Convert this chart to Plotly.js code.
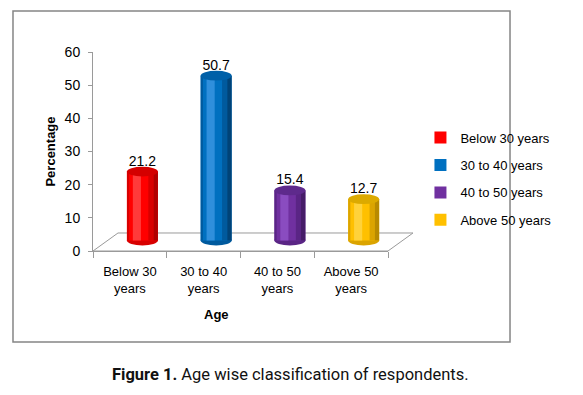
<!DOCTYPE html>
<html>
<head>
<meta charset="utf-8">
<script src="https://cdn.plot.ly/plotly-3.0.1.min.js"></script>
<style>html,body{margin:0;padding:0;background:#fff;}#chart{width:583px;height:395px;}</style>
</head>
<body>
<div id="chart"></div>
<script>
// ---- data ----
const categories = ["Below 30 years", "30 to 40 years", "40 to 50 years", "Above 50 years"];
const tickLabels = ["Below 30<br>years", "30 to 40<br>years", "40 to 50<br>years", "Above 50<br>years"];
const values = [21.2, 50.7, 15.4, 12.7];
const yTicks = [0, 10, 20, 30, 40, 50, 60];

// ---- styles ----
const mainColors  = ["#ff0000", "#0070c0", "#7030a0", "#ffc000"];
const lightColors = ["#ff3a3a", "#2f8fdc", "#8a4cc0", "#ffd23a"];
const darkColors  = ["#d80000", "#005a9e", "#5a2585", "#dba400"];
const edgeColors  = ["#b00000", "#004378", "#461c68", "#b88a00"];
const topColors   = ["#d40000", "#0060a8", "#5e2a8c", "#dcaa00"];

const FONT = "Liberation Sans, Arial, sans-serif";
const SHIFT = 0.17;   // 3D depth offset of bars (category units)
const W = 0.42;       // bar width
const EH = 1.5;       // half height of cylinder cap ellipse (y units)

const traces = [];
const shapes = [];

// empty helper trace so the visible (back wall) axes x/y are drawn
traces.push({type: 'scatter', mode: 'markers', x: [], y: [], xaxis: 'x', yaxis: 'y',
  showlegend: false, hoverinfo: 'skip'});

// floor of the 3D plot
shapes.push({type: 'path', xref: 'paper', yref: 'paper', layer: 'below',
  path: 'M 0 0 L 0.0847 0.0905 L 1.0847 0.0905 L 1 0 Z',
  line: {color: '#9a9a9a', width: 1}, fillcolor: 'rgba(0,0,0,0)'});
// outer frame
shapes.push({type: 'rect', xref: 'paper', yref: 'paper', layer: 'below',
  x0: -0.2712, x1: 1.4136, y0: -0.4573, y1: 1.206,
  line: {color: '#858585', width: 1.5}, fillcolor: 'rgba(0,0,0,0)'});

function strip(i, from, to, color) {
  return {
    type: 'bar', x: [tickLabels[i]], y: [values[i]], xaxis: 'x', yaxis: 'y2',
    width: [to - from], offset: [SHIFT - W / 2 + from],
    marker: {color: color, line: {width: 0}},
    showlegend: false, hoverinfo: 'skip', legendgroup: 'g' + i
  };
}

categories.forEach((cat, i) => {
  // main body (legend entry + label)
  traces.push({
    type: 'bar', name: cat, x: [tickLabels[i]], y: [values[i]], xaxis: 'x', yaxis: 'y2',
    width: [W], offset: [SHIFT - W / 2],
    marker: {color: mainColors[i], line: {width: 0}},
    text: [values[i].toFixed(1)], textposition: 'outside', cliponaxis: false,
    textfont: {family: FONT, size: 14, color: '#000'},
    legendgroup: 'g' + i
  });
  traces.push(strip(i, 0.0, 0.03, darkColors[i]));
  traces.push(strip(i, 0.08, 0.19, lightColors[i]));
  traces.push(strip(i, 0.29, 0.36, darkColors[i]));
  traces.push(strip(i, 0.36, 0.42, edgeColors[i]));
  // bottom cap
  shapes.push({type: 'circle', xref: 'x', yref: 'y2', layer: 'below',
    x0: i + SHIFT - W / 2, x1: i + SHIFT + W / 2, y0: -EH, y1: EH,
    fillcolor: darkColors[i], line: {width: 0}});
  // top cap
  shapes.push({type: 'circle', xref: 'x', yref: 'y2', layer: 'above',
    x0: i + SHIFT - W / 2, x1: i + SHIFT + W / 2, y0: values[i] - EH, y1: values[i] + EH,
    fillcolor: topColors[i], line: {width: 0}});
});

const layout = {
  width: 583, height: 395,
  margin: {l: 93, r: 195, t: 52, b: 144},
  paper_bgcolor: '#fff', plot_bgcolor: 'rgba(0,0,0,0)',
  font: {family: FONT, size: 13, color: '#000'},
  barmode: 'overlay',
  showlegend: true,
  legend: {x: 1.11, y: 0.645, xanchor: 'left', yanchor: 'top',
    font: {family: FONT, size: 13, color: '#000'},
    traceorder: 'grouped', tracegroupgap: 7.5, itemclick: false,
    bgcolor: 'rgba(0,0,0,0)'},
  xaxis: {
    type: 'category', range: [-0.5, 3.5], fixedrange: true,
    showline: true, linecolor: '#9a9a9a', linewidth: 1,
    ticks: 'outside', tickson: 'boundaries', ticklen: 6, tickcolor: '#9a9a9a',
    ticklabelstandoff: 8,
    showgrid: false, zeroline: false,
    tickfont: {family: FONT, size: 13, color: '#000'}
  },
  yaxis: {
    range: [0, 60], tickvals: yTicks, fixedrange: true,
    showline: true, linecolor: '#9a9a9a', linewidth: 1,
    ticks: 'outside', ticklen: 4, tickcolor: '#9a9a9a',
    ticklabelstandoff: 5,
    showgrid: false, zeroline: false,
    tickfont: {family: FONT, size: 14, color: '#000'},
    title: {text: '<b>Percentage</b>', font: {family: FONT, size: 13, color: '#000'}, standoff: 6}
  },
  yaxis2: {
    overlaying: 'y', range: [-3.23, 58.0], visible: false, fixedrange: true
  },
  shapes: shapes,
  annotations: [
    {text: '<b>Age</b>', xref: 'paper', yref: 'paper', x: 0.417, y: -0.3216,
     xanchor: 'center', yanchor: 'middle', showarrow: false,
     font: {family: FONT, size: 13, color: '#000'}},
    {text: '<b>Figure 1.</b> Age wise classification of respondents.', xref: 'paper', yref: 'paper',
     x: 0.671, y: -0.623, xanchor: 'center', yanchor: 'middle', showarrow: false,
     font: {family: 'Roboto, sans-serif', size: 16.5, color: '#111'}}
  ]
};

Plotly.newPlot('chart', traces, layout, {staticPlot: true, displayModeBar: false});
</script>
</body>
</html>
